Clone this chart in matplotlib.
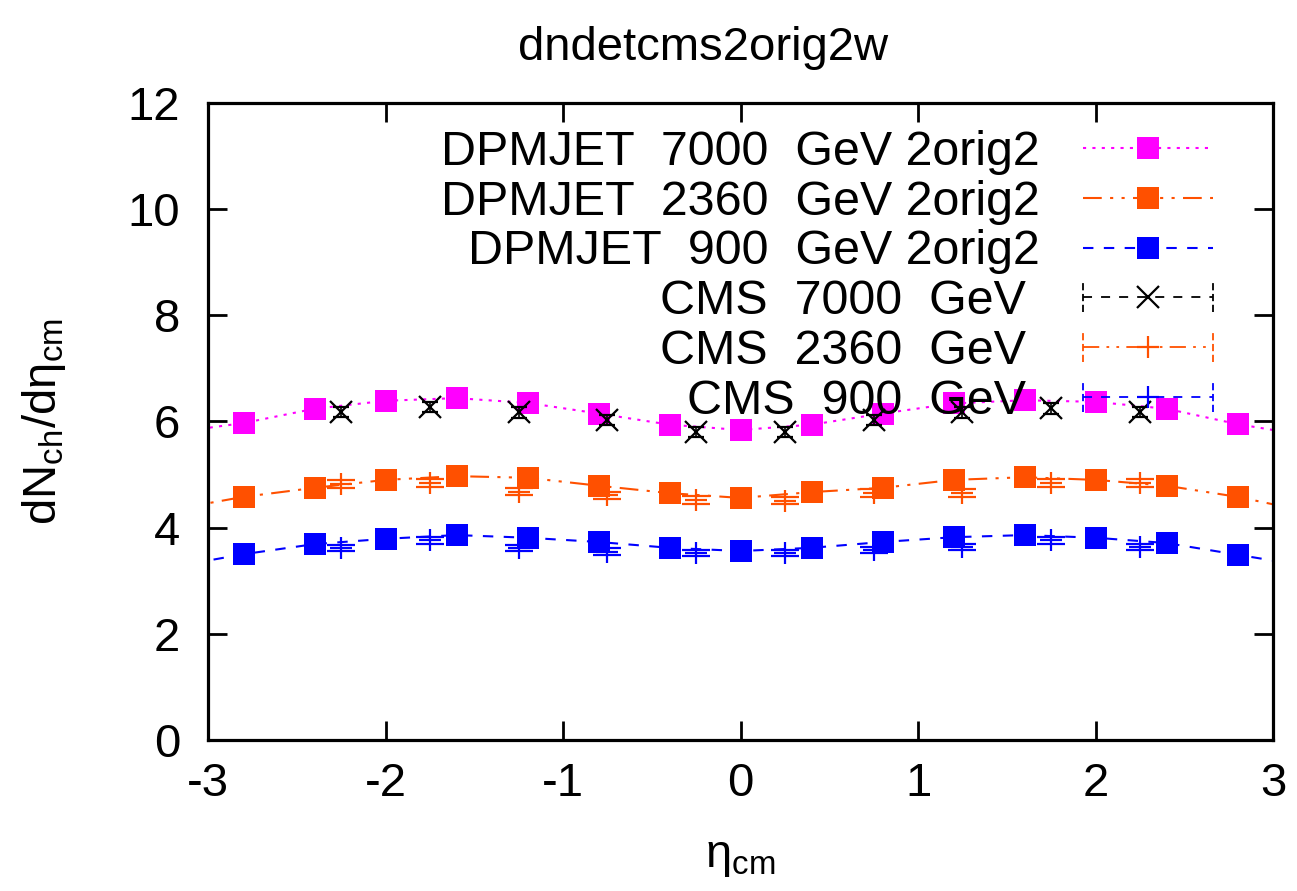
import matplotlib
matplotlib.use('Agg')
import matplotlib.pyplot as plt
from matplotlib.lines import Line2D
from matplotlib.legend_handler import HandlerLine2D

plt.rcParams['font.family'] = ['Liberation Sans', 'DejaVu Sans']
plt.rcParams['mathtext.fontset'] = 'custom'
plt.rcParams['mathtext.rm'] = 'Liberation Sans'
plt.rcParams['axes.unicode_minus'] = False

# DPMJET model, 2orig2 tune
eta_dpm = [-3.2, -2.8, -2.4, -2.0, -1.6, -1.2, -0.8, -0.4, 0.0,
           0.4, 0.8, 1.2, 1.6, 2.0, 2.4, 2.8, 3.2]
dpm_7000 = [5.79, 5.97, 6.24, 6.39, 6.44, 6.35, 6.15, 5.94, 5.84,
            5.94, 6.15, 6.34, 6.40, 6.37, 6.24, 5.95, 5.73]
dpm_2360 = [4.34, 4.58, 4.75, 4.90, 4.97, 4.94, 4.79, 4.65, 4.56,
            4.67, 4.75, 4.90, 4.95, 4.90, 4.79, 4.58, 4.30]
dpm_900 = [3.26, 3.50, 3.69, 3.79, 3.86, 3.81, 3.73, 3.62, 3.56,
           3.62, 3.73, 3.82, 3.86, 3.81, 3.71, 3.49, 3.27]

# CMS data
eta_cms = [-2.25, -1.75, -1.25, -0.75, -0.25, 0.25, 0.75, 1.25, 1.75, 2.25]
cms_7000 = [6.18, 6.27, 6.17, 6.03, 5.80, 5.80, 6.03, 6.17, 6.25, 6.18]
cms_7000_err = [0.1, 0.1, 0.1, 0.1, 0.1, 0.1, 0.1, 0.1, 0.1, 0.1]
cms_2360 = [4.82, 4.84, 4.68, 4.61, 4.52, 4.51, 4.65, 4.65, 4.84, 4.84]
cms_2360_err = [0.07, 0.07, 0.07, 0.07, 0.07, 0.07, 0.07, 0.07, 0.07, 0.07]
cms_900 = [3.62, 3.76, 3.62, 3.55, 3.52, 3.52, 3.58, 3.64, 3.76, 3.64]
cms_900_err = [0.06, 0.06, 0.06, 0.06, 0.06, 0.06, 0.06, 0.06, 0.06, 0.06]

magenta = '#ff00ff'
orange = '#ff5000'
blue = '#0000ff'

dotted = (0, (1.5, 3))
dashdotdot = (0, (9, 4, 1.5, 4, 1.5, 4))
dashed = (0, (5, 5))


class HandlerEndBars(HandlerLine2D):
    # line sample with small vertical bars at both ends, like gnuplot errorbar keys
    def create_artists(self, legend, orig_handle, xdescent, ydescent,
                       width, height, fontsize, trans):
        artists = super().create_artists(legend, orig_handle, xdescent, ydescent,
                                         width, height, fontsize, trans)
        ymid = height / 2 - ydescent
        half = 0.3 * fontsize
        for x in (-xdescent, width - xdescent):
            bar = Line2D([x, x], [ymid - half, ymid + half],
                         color=orig_handle.get_color(),
                         lw=orig_handle.get_linewidth(),
                         linestyle=(0, (4, 2)))
            bar.set_transform(trans)
            artists.append(bar)
        return artists


fig = plt.figure(figsize=(12.97, 8.91), dpi=100)
ax = fig.add_axes([0.1604, 0.1695, 0.8211, 0.7149])

fs = 34
ms = 15.5

h1, = ax.plot(eta_dpm, dpm_7000, color=magenta, ls=dotted, lw=1.5,
              marker='s', ms=ms, mew=0)
h2, = ax.plot(eta_dpm, dpm_2360, color=orange, ls=dashdotdot, lw=1.5,
              marker='s', ms=ms, mew=0)
h3, = ax.plot(eta_dpm, dpm_900, color=blue, ls=dashed, lw=1.5,
              marker='s', ms=ms, mew=0)

ax.errorbar(eta_cms, cms_7000, yerr=cms_7000_err, fmt='x', color='black',
            ms=16, mew=1.6, elinewidth=1.2, capsize=6, capthick=1.2)
ax.errorbar(eta_cms, cms_2360, yerr=cms_2360_err, fmt='+', color=orange,
            ms=16, mew=1.6, elinewidth=1.2, capsize=10, capthick=1.2)
ax.errorbar(eta_cms, cms_900, yerr=cms_900_err, fmt='+', color=blue,
            ms=16, mew=1.6, elinewidth=1.2, capsize=10, capthick=1.2)

# key samples for the CMS points
k4 = Line2D([], [], color='black', ls=dashed, lw=1.3, marker='x', ms=16, mew=1.6)
k5 = Line2D([], [], color=orange, ls=dashdotdot, lw=1.3, marker='+', ms=16, mew=1.6)
k6 = Line2D([], [], color=blue, ls=dashed, lw=1.3, marker='+', ms=16, mew=1.6)

handles = [h1, h2, h3, k4, k5, k6]
labels = ['DPMJET  7000  GeV 2orig2', 'DPMJET  2360  GeV 2orig2',
          'DPMJET  900  GeV 2orig2', 'CMS  7000  GeV ', 'CMS  2360  GeV ',
          'CMS  900  GeV ']
bars = HandlerEndBars()
ax.legend(handles, labels, loc='upper right', bbox_to_anchor=(0.944, 0.958),
          frameon=False, markerfirst=False, numpoints=1, fontsize=34.8,
          handlelength=2.7, handletextpad=0.9, labelspacing=0.1,
          borderpad=0, borderaxespad=0,
          handler_map={k4: bars, k5: bars, k6: bars})

ax.set_xlim(-3, 3)
ax.set_ylim(0, 12)
ax.set_xticks([-3, -2, -1, 0, 1, 2, 3])
ax.set_yticks([0, 2, 4, 6, 8, 10, 12])
ax.tick_params(direction='in', length=14, width=2, labelsize=fs,
               top=True, right=True, pad=20)
ax.tick_params(axis='x', pad=16)
for sp in ax.spines.values():
    sp.set_linewidth(2.3)

ax.set_title('dndetcms2orig2w', fontsize=fs, pad=31, x=0.465)
ax.set_xlabel('η$_{\\mathrm{cm}}$', fontsize=fs, labelpad=21)
ax.set_ylabel('dN$_{\\mathrm{ch}}$/dη$_{\\mathrm{cm}}$', fontsize=fs, labelpad=43)

fig.savefig('out.png', dpi=100)
